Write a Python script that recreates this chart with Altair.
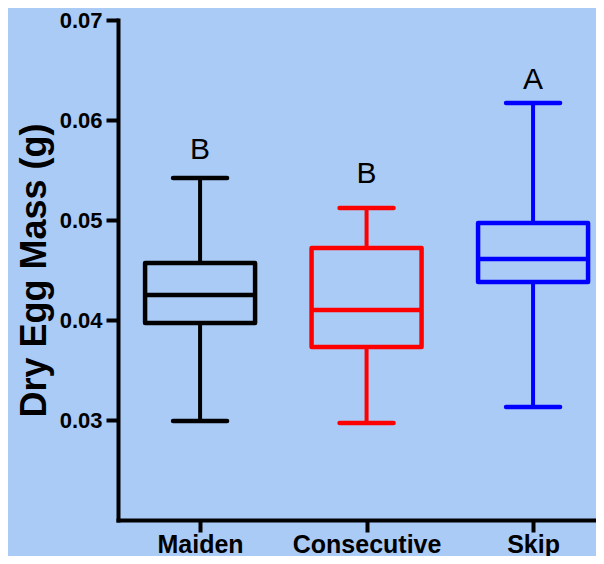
import altair as alt
import pandas as pd

groups = ["Maiden", "Consecutive", "Skip"]
mins = [0.0299, 0.0297, 0.0313]
q1s = [0.0397, 0.0373, 0.0438]
medians = [0.0425, 0.0410, 0.0461]
q3s = [0.0457, 0.0472, 0.0497]
maxs = [0.0542, 0.0512, 0.0617]
letters = ["B", "B", "A"]
letter_y = [0.0561, 0.0537, 0.0631]
colors = ["#000000", "#ff0000", "#0000ff"]
y_ticks = [0.03, 0.04, 0.05, 0.06, 0.07]

bg = "#abcbf7"

df = pd.DataFrame({
    "group": groups, "min": mins, "q1": q1s, "median": medians,
    "q3": q3s, "max": maxs, "letter": letters, "ly": letter_y,
})

xscale = alt.Scale(type="point", domain=groups, padding=0.4355, align=0.566)
yscale = alt.Scale(domain=[0.02, 0.07], nice=False, zero=False)
stroke = alt.Stroke("group:N", scale=alt.Scale(domain=groups, range=colors), legend=None)

x_enc = alt.X("group:N", scale=xscale, sort=groups,
              axis=alt.Axis(title=None, labelAngle=0, labelFontSize=25,
                            labelPadding=0, tickSize=12))
y_axis = alt.Axis(title="Dry Egg Mass (g)", values=y_ticks, format=".2f",
                  labelFontSize=22, labelPadding=4, tickSize=12,
                  titleFontSize=36, titleFontWeight="bold", titleAngle=270,
                  titleAlign="center", titleBaseline="alphabetic",
                  titleX=-73, titleY=250, titleColor="black",
                  titleFont="Liberation Sans")

base = alt.Chart(df)

whisker = base.mark_rule(strokeWidth=4).encode(
    x=x_enc,
    y=alt.Y("min:Q", scale=yscale, axis=y_axis),
    y2="max:Q",
    stroke=stroke,
)
caps_lo = base.mark_rule(strokeWidth=4.5, strokeCap="round", xOffset=-27, x2Offset=27).encode(
    x=alt.X("group:N", scale=xscale), x2="group:N",
    y=alt.Y("min:Q", scale=yscale), stroke=stroke,
)
caps_hi = base.mark_rule(strokeWidth=4.5, strokeCap="round", xOffset=-27, x2Offset=27).encode(
    x=alt.X("group:N", scale=xscale), x2="group:N",
    y=alt.Y("max:Q", scale=yscale), stroke=stroke,
)
box = base.mark_bar(size=110, strokeWidth=4.5, fill=bg, strokeJoin="round").encode(
    x=alt.X("group:N", scale=xscale),
    y=alt.Y("q1:Q", scale=yscale), y2="q3:Q",
    stroke=stroke,
)
med = base.mark_rule(strokeWidth=4.5, xOffset=-55, x2Offset=55).encode(
    x=alt.X("group:N", scale=xscale), x2="group:N",
    y=alt.Y("median:Q", scale=yscale), stroke=stroke,
)
txt = base.mark_text(font="Liberation Sans", fontSize=30, baseline="alphabetic",
                     color="black").encode(
    x=alt.X("group:N", scale=xscale),
    y=alt.Y("ly:Q", scale=yscale),
    text="letter:N",
)

chart = alt.layer(whisker, caps_lo, caps_hi, box, med, txt).properties(
    width=478, height=500,
    background=bg,
    padding={"left": 110, "top": 12, "right": 0, "bottom": 36},
    autosize=alt.AutoSizeParams(type="none"),
).configure_view(stroke=None).configure_axis(
    grid=False, domainColor="black", domainWidth=4, domainCap="square",
    tickColor="black", tickWidth=4, labelColor="black",
    labelFont="Liberation Sans", labelFontWeight="bold",
)

chart.save("out.html", embed_options={"renderer": "svg", "actions": False})
